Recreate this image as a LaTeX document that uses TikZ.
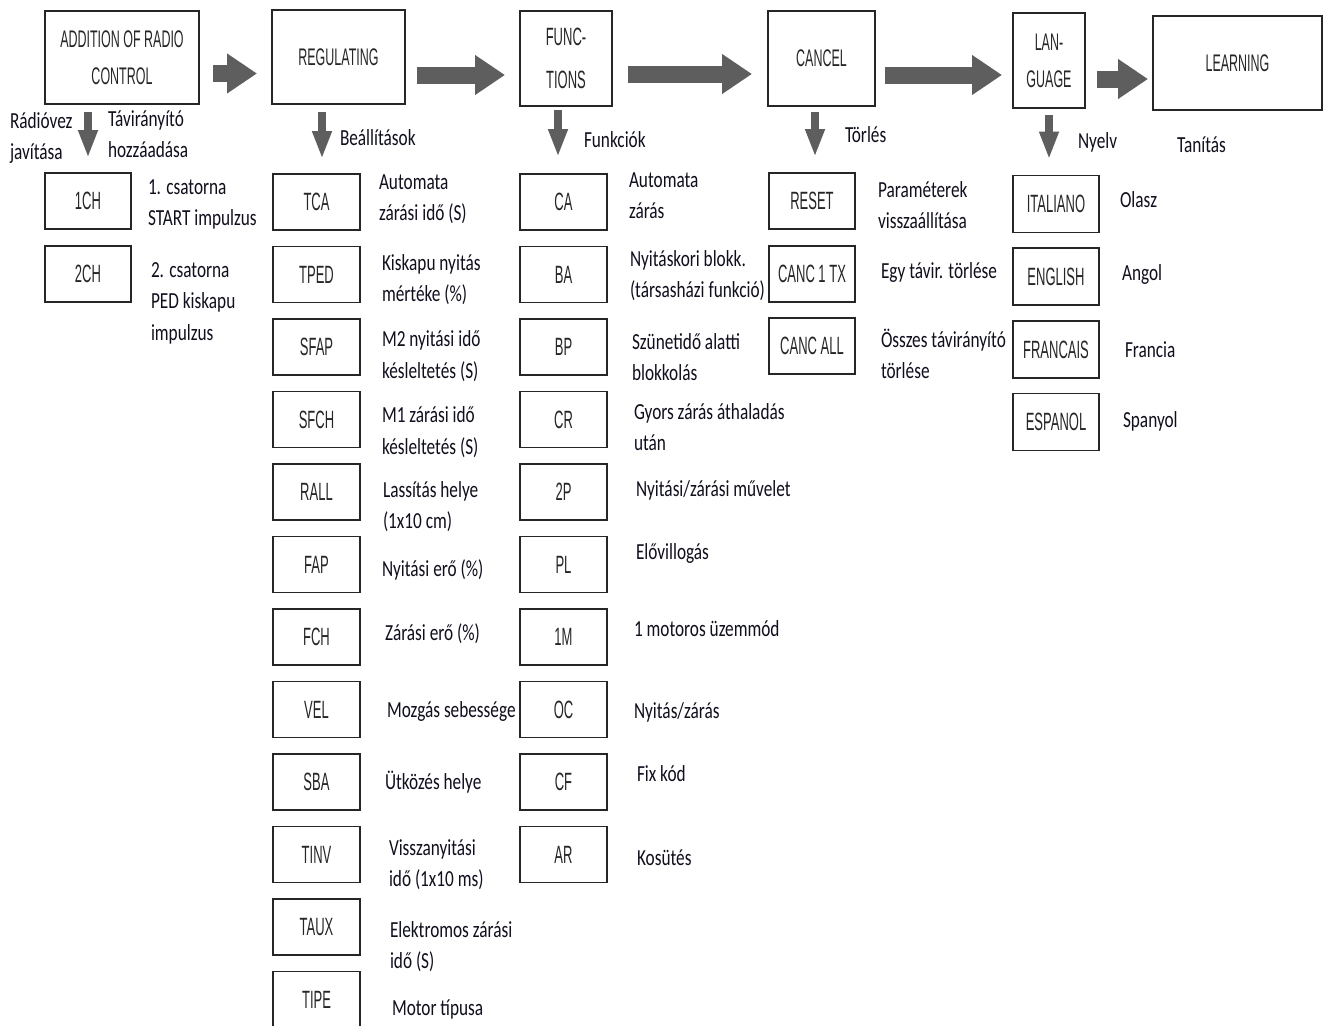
\documentclass[tikz,border=0pt]{standalone}
\usepackage{fontspec}
\usetikzlibrary{arrows.meta,calc}
\newfontfamily\lcdfont[FakeStretch=0.52]{Liberation Sans}
\newfontfamily\descfont[FakeStretch=0.75]{Carlito}
\definecolor{boxtext}{HTML}{262626}
\definecolor{arr}{HTML}{5E5E5E}
\definecolor{txt}{HTML}{0F0F1E}
\begin{document}
\begin{tikzpicture}[x=1pt,y=-1pt,
  every node/.style={inner sep=0pt, outer sep=0pt},
  topbox/.style={draw=black!85, line width=1.3pt, font=\lcdfont\fontsize{24}{37}\selectfont, text=boxtext, align=center},
  smallbox/.style={draw=black!85, line width=1.3pt, minimum width=86pt, minimum height=56pt, font=\lcdfont\fontsize{25}{28}\selectfont, text=boxtext},
  lbl/.style={anchor=base west, align=left, font=\descfont\fontsize{23}{31.5}\selectfont, text=txt},
  bigarrow/.style={draw=arr, line width=17pt, -{Triangle[width=38pt,length=30pt]}},
  downarrow/.style={draw=arr, line width=8pt, -{Triangle[width=18pt,length=28pt]}},
]
\fill[white] (0,0) rectangle (1324,1025);
\useasboundingbox (0,0) rectangle (1324,1025);

% top boxes
\node[topbox, minimum width=154pt, minimum height=93pt] (add) at (122,57.5) {ADDITION OF RADIO\\CONTROL};
\node[topbox, minimum width=133pt, minimum height=94pt] (reg) at (338.5,57) {REGULATING};
\node[topbox, minimum width=92pt, minimum height=95pt, font=\lcdfont\fontsize{25}{43}\selectfont] (func) at (566,58.5) {FUNC-\\TIONS};
\node[topbox, minimum width=107pt, minimum height=95pt] (cancel) at (821.5,58.5) {CANCEL};
\node[topbox, minimum width=72pt, minimum height=95pt] (lang) at (1049,60.5) {LAN-\\GUAGE};
\node[topbox, minimum width=169pt, minimum height=94pt] (learn) at (1237.5,63) {LEARNING};

% big arrows
\draw[bigarrow] ($(add.east)+(14,16)$) -- ($(reg.west)+(-15,16.5)$);
\draw[bigarrow] ($(reg.east)+(12,18)$) -- ($(func.west)+(-15,16.5)$);
\draw[bigarrow] ($(func.east)+(16,15.5)$) -- ($(cancel.west)+(-16,15.5)$);
\draw[bigarrow] ($(cancel.east)+(10,16.5)$) -- ($(lang.west)+(-11,14.5)$);
\draw[bigarrow] ($(lang.east)+(12,18.5)$) -- ($(learn.west)+(-5,16)$);

% column 1
\node[smallbox] (ch1) at (88,201) {1CH};
\node[smallbox] (ch2) at (88,274) {2CH};

% column 2
\node[smallbox, minimum width=87pt] (tca)  at (316.5,202)   {TCA};
\node[smallbox, minimum width=87pt] (tped) at (316.5,274.5) {TPED};
\node[smallbox, minimum width=87pt] (sfap) at (316.5,347)   {SFAP};
\node[smallbox, minimum width=87pt] (sfch) at (316.5,419.5) {SFCH};
\node[smallbox, minimum width=87pt] (rall) at (316.5,492)   {RALL};
\node[smallbox, minimum width=87pt] (fap)  at (316.5,564.5) {FAP};
\node[smallbox, minimum width=87pt] (fch)  at (316.5,637)   {FCH};
\node[smallbox, minimum width=87pt] (vel)  at (316.5,709.5) {VEL};
\node[smallbox, minimum width=87pt] (sba)  at (316.5,782)   {SBA};
\node[smallbox, minimum width=87pt] (tinv) at (316.5,854.5) {TINV};
\node[smallbox, minimum width=87pt] (taux) at (316.5,927)   {TAUX};
\node[smallbox, minimum width=87pt] (tipe) at (316.5,999.5) {TIPE};

% column 3
\node[smallbox, minimum width=87pt] (ca)  at (563.5,202)   {CA};
\node[smallbox, minimum width=87pt] (ba)  at (563.5,274.5) {BA};
\node[smallbox, minimum width=87pt] (bp)  at (563.5,347)   {BP};
\node[smallbox, minimum width=87pt] (cr)  at (563.5,419.5) {CR};
\node[smallbox, minimum width=87pt] (p2)  at (563.5,492)   {2P};
\node[smallbox, minimum width=87pt] (pl)  at (563.5,564.5) {PL};
\node[smallbox, minimum width=87pt] (m1)  at (563.5,637)   {1M};
\node[smallbox, minimum width=87pt] (oc)  at (563.5,709.5) {OC};
\node[smallbox, minimum width=87pt] (cf)  at (563.5,782)   {CF};
\node[smallbox, minimum width=87pt] (ar)  at (563.5,854.5) {AR};

% column 4
\node[smallbox] (reset)   at (812,201)   {RESET};
\node[smallbox] (canc1)   at (812,274)   {CANC 1 TX};
\node[smallbox] (cancall) at (812,346)   {CANC ALL};

% column 5
\node[smallbox, minimum height=57pt] (ita) at (1056,204)   {ITALIANO};
\node[smallbox, minimum height=57pt] (eng) at (1056,276.5) {ENGLISH};
\node[smallbox, minimum height=57pt] (fra) at (1056,349.5) {FRANCAIS};
\node[smallbox, minimum height=57pt] (esp) at (1056,422)   {ESPANOL};

% down arrows
\draw[downarrow] ($(add.south -| ch1.north)+(0,8)$) -- ($(ch1.north)+(0,-15)$);
\draw[downarrow] ($(reg.south -| tca.north)+(5.5,8)$) -- ($(tca.north)+(5.5,-15)$);
\draw[downarrow] ($(func.south -| ca.north)+(-5.5,4)$) -- ($(ca.north)+(-5.5,-17)$);
\draw[downarrow] ($(cancel.south -| reset.north)+(3,6)$) -- ($(reset.north)+(3,-16)$);
\draw[downarrow] ($(lang.south -| ita.north)+(-7,7)$) -- ($(ita.north)+(-7,-16)$);

% header labels (base = baseline of last line)
\node[lbl] (l1) at (10,159.5) {Rádióvez\\javítása};
\node[lbl] (l2) at (108,157.5) {Távirányító\\hozzáadása};
\node[lbl] (l3) at (340,145) {Beállítások};
\node[lbl] (l4) at (584,147) {Funkciók};
\node[lbl] (l5) at (845,142) {Törlés};
\node[lbl] (l6) at (1078,148) {Nyelv};
\node[lbl] (l7) at (1177,152) {Tanítás};

% column 1 labels
\node[lbl] (d1) at (148,225.5) {1. csatorna\\START impulzus};
\node[lbl] (d2) at (151,340) {2. csatorna\\PED kiskapu\\impulzus};

% column 2 labels
\node[lbl] (e1)  at (379,220.5)  {Automata\\zárási idő (S)};
\node[lbl] (e2)  at (382,301.5)  {Kiskapu nyitás\\mértéke (\%)};
\node[lbl] (e3)  at (382,378)    {M2 nyitási idő\\késleltetés (S)};
\node[lbl] (e4)  at (382,454)    {M1 zárási idő\\késleltetés (S)};
\node[lbl] (e5)  at (383,528.5)  {Lassítás helye\\(1x10 cm)};
\node[lbl] (e6)  at (382,576)    {Nyitási erő (\%)};
\node[lbl] (e7)  at (385,640)    {Zárási erő (\%)};
\node[lbl] (e8)  at (387,717)    {Mozgás sebessége};
\node[lbl] (e9)  at (385,789)    {Ütközés helye};
\node[lbl] (e10) at (389,886.5)  {Visszanyitási\\idő (1x10 ms)};
\node[lbl] (e11) at (390,968.5)  {Elektromos zárási\\idő (S)};
\node[lbl] (e12) at (392,1015)   {Motor típusa};

% column 3 labels
\node[lbl] (f1)  at (629,218.5) {Automata\\zárás};
\node[lbl] (f2)  at (630,297.5) {Nyitáskori blokk.\\(társasházi funkció)};
\node[lbl] (f3)  at (632,380.5) {Szünetidő alatti\\blokkolás};
\node[lbl] (f4)  at (634,450.5) {Gyors zárás áthaladás\\után};
\node[lbl] (f5)  at (636,496)   {Nyitási/zárási művelet};
\node[lbl] (f6)  at (636,559)   {Elővillogás};
\node[lbl] (f7)  at (634,636)   {1 motoros üzemmód};
\node[lbl] (f8)  at (634,718)   {Nyitás/zárás};
\node[lbl] (f9)  at (637,781)   {Fix kód};
\node[lbl] (f10) at (637,865)   {Kosütés};

% column 4 labels
\node[lbl] (g1) at (878,228.5) {Paraméterek\\visszaállítása};
\node[lbl] (g2) at (881,278)   {Egy távir. törlése};
\node[lbl] (g3) at (881,378.5) {Összes távirányító\\törlése};

% column 5 labels
\node[lbl] (h1) at (1120,207) {Olasz};
\node[lbl] (h2) at (1122,280) {Angol};
\node[lbl] (h3) at (1125,357) {Francia};
\node[lbl] (h4) at (1123,427) {Spanyol};
\end{tikzpicture}
\end{document}
